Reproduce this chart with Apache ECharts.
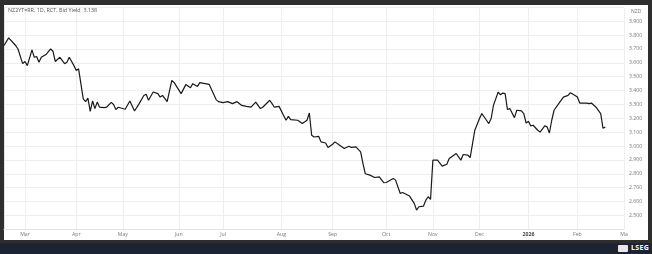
<!DOCTYPE html>
<html><head><meta charset="utf-8">
<script src="https://cdn.jsdelivr.net/npm/echarts@6/dist/echarts.min.js"></script>
<style>
html,body{margin:0;padding:0;background:#2e2e2e;width:652px;height:254px;overflow:hidden;}
#panel{position:absolute;left:4px;top:5px;width:644px;height:235px;background:#fff;}
#bar{position:absolute;left:0;top:243px;width:652px;height:11px;background:#1c2333;}
#icon{position:absolute;left:618px;top:245px;width:10px;height:7px;background:#e8e8e8;border-radius:1px;}
#logo{position:absolute;left:631px;top:243px;height:11px;line-height:11px;color:#fff;font:bold 7px "Open Sans",sans-serif;letter-spacing:0.3px;}
#chart{position:absolute;left:0;top:0;width:652px;height:254px;}
</style></head>
<body>
<div id="panel"></div><div id="bar"></div><div id="icon"></div><div id="logo">LSEG</div>
<div id="chart"></div>
<script>
// trading-day index (0 = first shown day) and NZ 2Y bid yield
const days = [0,2,5,6,8,9,10,12,13,14,15,16,18,20,21,22,24,26,27,28,30,31,32,34,35,36,37,38,39,40,41,43,44,46,47,48,49,52,54,56,58,60,61,62,64,66,67,68,70,72,73,76,78,80,81,83,84,88,91,92,94,96,98,100,102,104,106,108,110,111,114,115,116,118,121,122,123,126,128,130,131,132,133,135,136,138,139,141,142,144,146,148,149,151,153,154,155,157,159,161,163,164,167,168,170,171,174,176,177,178,180,181,182,183,184,186,188,190,191,194,196,197,199,200,202,204,205,207,208,209,210,212,213,214,215,216,217,219,220,222,223,224,225,226,227,229,230,232,233,234,235,236,238,240,242,243,245,246,247,250,251,252,254,256,257,258];
const yields = [3.725,3.78,3.725,3.70,3.594,3.61,3.58,3.694,3.64,3.646,3.605,3.64,3.66,3.70,3.684,3.61,3.64,3.594,3.605,3.64,3.58,3.545,3.557,3.34,3.32,3.346,3.25,3.325,3.27,3.317,3.28,3.277,3.28,3.315,3.30,3.263,3.28,3.265,3.325,3.253,3.306,3.365,3.373,3.33,3.39,3.378,3.353,3.365,3.32,3.473,3.457,3.378,3.443,3.42,3.45,3.43,3.457,3.445,3.335,3.32,3.313,3.32,3.306,3.32,3.293,3.286,3.28,3.317,3.27,3.28,3.33,3.306,3.28,3.286,3.186,3.214,3.19,3.186,3.162,3.186,3.238,3.078,3.065,3.07,3.03,3.022,2.99,3.013,3.03,3.006,2.982,2.999,2.99,2.994,2.958,2.874,2.80,2.79,2.773,2.778,2.735,2.737,2.766,2.754,2.658,2.665,2.639,2.586,2.538,2.562,2.567,2.61,2.634,2.615,2.898,2.898,2.855,2.869,2.91,2.946,2.898,2.939,2.934,2.917,3.114,3.198,3.234,3.186,3.162,3.198,3.294,3.389,3.37,3.382,3.378,3.263,3.27,3.205,3.258,3.253,3.234,3.166,3.178,3.145,3.15,3.114,3.10,3.145,3.138,3.094,3.186,3.258,3.306,3.353,3.365,3.385,3.365,3.353,3.31,3.31,3.306,3.31,3.28,3.234,3.128,3.138];
const monthDays = [9,31,51,75,94,119,141,164,184,204,225,246,266];
const monthLabels = ['Mar','Apr','May','Jun','Jul','Aug','Sep','Oct','Nov','Dec','2026','Feb','Ma'];
const lastValue = 3.138;
const titleText = 'NZ2YT=RR, 1D, RCT, Bid Yield  3.138';

const data = days.map((d, i) => [d, yields[i]]);
const font = '"Open Sans", sans-serif';
const chart = echarts.init(document.getElementById('chart'));
chart.setOption({
  animation: false,
  backgroundColor: 'transparent',
  title: [
    {text: titleText, left: 8, top: 8, padding: 0, textStyle: {fontSize: 5.4, fontWeight: 'normal', color: '#555', fontFamily: font}},
    {text: 'NZD', left: 631, top: 9, padding: 0, textStyle: {fontSize: 5, fontWeight: 'normal', color: '#777', fontFamily: font}}
  ],
  grid: {left: 4, right: 28, top: 7.4, bottom: 24.8},
  xAxis: {
    type: 'value', min: 0, max: 266,
    axisLine: {show: true, lineStyle: {color: '#e3e3e3', width: 1}},
    axisTick: {show: false, customValues: monthDays},
    splitLine: {show: true, lineStyle: {color: '#eeeeee', width: 1}},
    axisLabel: {
      customValues: monthDays, margin: 3, fontSize: 5.2, color: '#777', fontFamily: font,
      formatter: v => {
        const t = monthLabels[monthDays.indexOf(v)] || '';
        return /^\d+$/.test(t) ? '{b|' + t + '}' : t;
      },
      rich: {b: {fontWeight: 'bold', fontSize: 5.2, color: '#444', fontFamily: font}}
    }
  },
  yAxis: {
    type: 'value', position: 'right', min: 2.4, max: 4.0, interval: 0.1,
    axisLine: {show: true, lineStyle: {color: '#e3e3e3', width: 1}},
    axisTick: {show: false},
    splitLine: {show: true, lineStyle: {color: '#eeeeee', width: 1}},
    axisLabel: {
      margin: 5, fontSize: 5.2, color: '#777', fontFamily: font,
      showMinLabel: false, showMaxLabel: false,
      formatter: v => v.toFixed(3)
    }
  },
  series: [{
    type: 'line', data: data, symbol: 'none',
    lineStyle: {color: '#1a1a1a', width: 1.2},
    markLine: {
      silent: true, symbol: 'none',
      lineStyle: {opacity: 0},
      data: [{yAxis: lastValue}],
      label: {
        position: 'end', distance: 4, formatter: lastValue.toFixed(3),
        backgroundColor: '#111', color: '#fff', fontSize: 5.2, fontFamily: font,
        padding: [1, 2, 1, 2]
      }
    }
  }]
});
</script>
</body></html>
